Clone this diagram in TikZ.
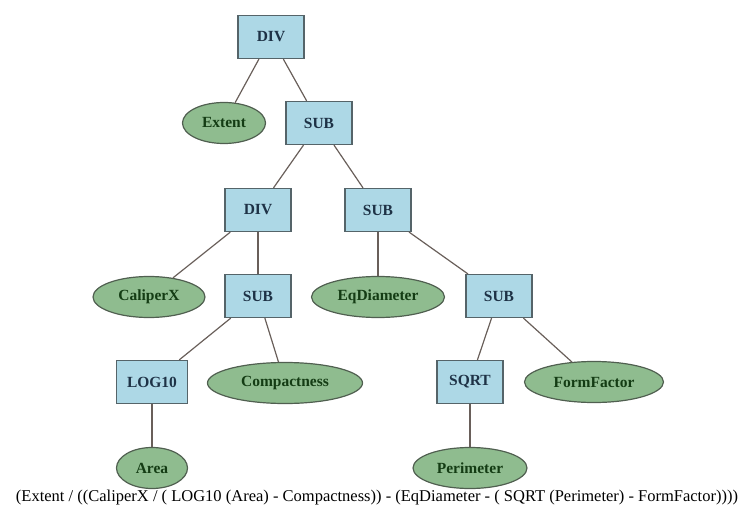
\documentclass[tikz,border=0pt]{standalone}
\usepackage{fontspec}
\setmainfont{Liberation Serif}
\usepackage{tikz}
\usetikzlibrary{shapes.geometric}

\definecolor{opfill}{RGB}{173,216,230}
\definecolor{leaffill}{RGB}{143,188,143}
\definecolor{opline}{RGB}{85,100,105}
\definecolor{leafline}{RGB}{80,95,80}
\definecolor{edgeline}{RGB}{105,95,90}
\definecolor{optext}{RGB}{30,50,70}
\definecolor{leaftext}{RGB}{20,60,20}

\tikzset{
  opnode/.style={draw=opline, line width=1.2pt, fill=opfill, rectangle,
    minimum width=66pt, minimum height=43pt, inner sep=2pt,
    font=\fontsize{15.5}{17}\selectfont\bfseries, text=optext},
  leafnode/.style={draw=leafline, line width=1.2pt, fill=leaffill, ellipse,
    minimum height=41pt, inner sep=1pt,
    font=\fontsize{15.5}{17}\selectfont\bfseries, text=leaftext},
  treeedge/.style={draw=edgeline, line width=1.2pt}
}

\begin{document}
\begin{tikzpicture}[x=1pt,y=1pt,yscale=-1,xscale=1]
        \useasboundingbox (0,0) rectangle (747,513);
        % operators
        \node [opnode] (div1) at (271,37) {DIV};
        \node [opnode] (sub1) at (319,123) {SUB};
        \node [opnode] (div2) at (258,210) {DIV};
        \node [opnode] (sub2) at (378,210) {SUB};
        \node [opnode] (sub3) at (258,296) {SUB};
        \node [opnode] (sub4) at (499,296) {SUB};
        \node [opnode, minimum width=71pt] (log) at (152,382) {LOG10};
        \node [opnode] (sqrt) at (470,382) {SQRT};
        % leaves
        \node [leafnode, minimum width=83pt] (extent) at (224,123) {Extent};
        \node [leafnode, minimum width=112pt] (caliper) at (149,297) {CaliperX};
        \node [leafnode, minimum width=133pt] (eqdiam) at (378,297) {EqDiameter};
        \node [leafnode, minimum width=155pt] (compact) at (285,383) {Compactness};
        \node [leafnode, minimum width=139pt] (formf) at (594,382) {FormFactor};
        \node [leafnode, minimum width=71pt] (area) at (152,468) {Area};
        \node [leafnode, minimum width=114pt] (perim) at (470,468) {Perimeter};
        % edges
        \draw [treeedge] (div1) -- (extent);
        \draw [treeedge] (div1) -- (sub1);
        \draw [treeedge] (sub1) -- (div2);
        \draw [treeedge] (sub1) -- (sub2);
        \draw [treeedge] (div2) -- (caliper);
        \draw [treeedge] (div2) -- (sub3);
        \draw [treeedge] (sub2) -- (eqdiam);
        \draw [treeedge] (sub2) -- (sub4);
        \draw [treeedge] (sub3) -- (log);
        \draw [treeedge] (sub3) -- (compact);
        \draw [treeedge] (sub4) -- (sqrt);
        \draw [treeedge] (sub4) -- (formf);
        \draw [treeedge] (log) -- (area);
        \draw [treeedge] (sqrt) -- (perim);
        % expression
        \node [font=\fontsize{16.5}{18}\selectfont, inner sep=0pt] (expr) at (377,498)
          {(Extent / ((CaliperX / ( LOG10 (Area) - Compactness)) - (EqDiameter - ( SQRT (Perimeter) - FormFactor))))};
\end{tikzpicture}
\end{document}
